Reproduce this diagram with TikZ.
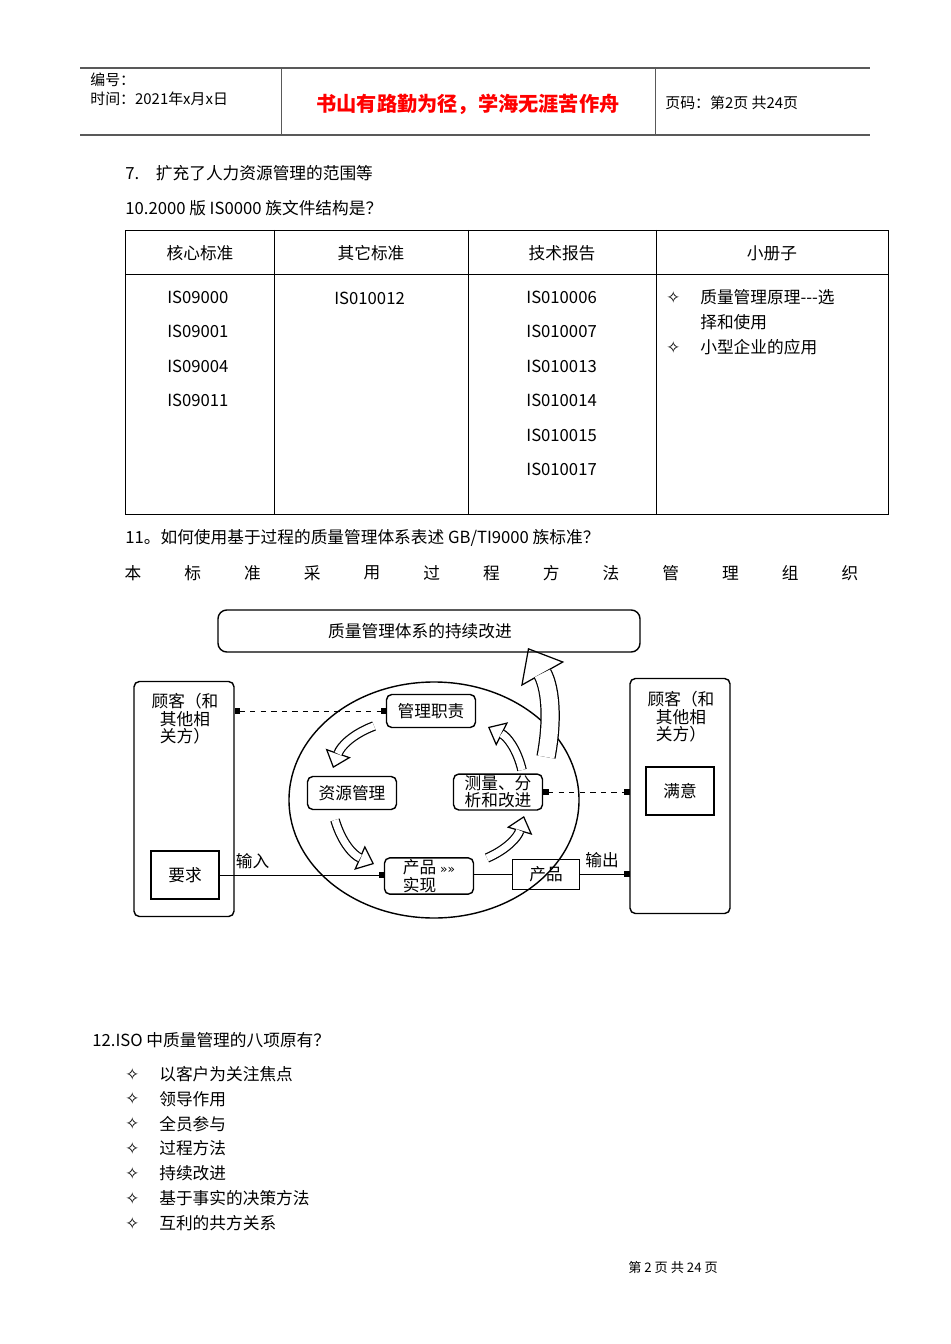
\documentclass[tikz,border=0pt]{standalone}
\usepackage{fontspec}
\setmainfont{Noto Sans CJK SC}
\newfontfamily\symfont{DejaVu Sans}
\usetikzlibrary{arrows.meta,positioning,shapes.geometric}
\tikzset{
  txt/.style={anchor=west, inner sep=0pt, font=\fontsize{9.5}{11}\selectfont},
  stage/.style={draw, rounded corners=3pt, thick, inner sep=1pt, minimum width=1.78cm, minimum height=0.66cm, align=center, font=\fontsize{9.5}{9.5}\selectfont},
  party/.style={draw, thick, rounded corners=3pt, minimum width=2cm, minimum height=4.7cm},
  sqbox/.style={draw, thick, minimum width=1.36cm, minimum height=0.96cm, font=\fontsize{9.5}{11}\selectfont},
  hollow/.style={line width=5.5pt, -{Triangle[open,length=9pt,width=15pt,line width=0.7pt]},
    postaction={draw=white, line width=4.1pt, -, shorten >=8.6pt}},
  bighollow/.style={line width=11pt, -{Triangle[open,length=17pt,width=28pt,line width=0.7pt]},
    postaction={draw=white, line width=9.6pt, -, shorten >=16.6pt}},
  dasharrow/.style={dashed, {Rectangle[length=3pt,width=3pt]}-{Rectangle[length=3pt,width=3pt]}},
  flow/.style={-{Rectangle[length=3pt,width=3pt]}}
}
\begin{document}
\begin{tikzpicture}[x=0.02cm, y=-0.02cm]
\useasboundingbox (0,0) rectangle (950,1344);

% Header
\draw[gray!70!black, line width=0.8pt] (80,68) -- (870,68);
\draw[gray!70!black, line width=1.4pt] (80,135) -- (870,135);
\draw[gray!70!black] (281,68) -- (281,135) (655,68) -- (655,135);
\node[txt, font=\fontsize{8.5}{10}\selectfont] (num) at (90,80) {编号：};
\node[txt, font=\fontsize{8.5}{10}\selectfont] (date) at (90,99) {时间：2021年x月x日};
\node[inner sep=0pt, text=red, font=\fontsize{11.5}{12}\selectfont\bfseries] (motto) at (468,104) {书山有路勤为径，学海无涯苦作舟};
\node[txt, font=\fontsize{8.5}{10}\selectfont] (page) at (665,103) {页码：第2页\ 共24页};

% Text
\node[txt] (l7) at (125,173) {7.\quad 扩充了人力资源管理的范围等};
\node[txt] (l10) at (125,208) {10.2000 版 IS0000 族文件结构是？};

% Table
\draw (125,230) rectangle (888,514);
\draw (125,274) -- (888,274);
\draw (274,230) -- (274,514) (468,230) -- (468,514) (656,230) -- (656,514);
\node[inner sep=0pt, font=\fontsize{9.5}{11}\selectfont] (h1) at (200,253) {核心标准};
\node[inner sep=0pt, font=\fontsize{9.5}{11}\selectfont] (h2) at (371,253) {其它标准};
\node[inner sep=0pt, font=\fontsize{9.5}{11}\selectfont] (h3) at (562,253) {技术报告};
\node[inner sep=0pt, font=\fontsize{9.5}{11}\selectfont] (h4) at (772,253) {小册子};
\foreach \t [count=\i] in {IS09000,IS09001,IS09004,IS09011}
  \node[txt] (core\i) at (167,263+34.4*\i) {\t};
\node[txt] (other1) at (334,298) {IS010012};
\foreach \t [count=\i] in {IS010006,IS010007,IS010013,IS010014,IS010015,IS010017}
  \node[txt] (tech\i) at (526,263+34.4*\i) {\t};
\node[txt] (b1) at (666,297) {\symfont ✧};
\node[txt] (b1t) at (700,297) {质量管理原理{-}{-}{-}选};
\node[txt] (b1u) at (700,322) {择和使用};
\node[txt] (b2) at (666,347) {\symfont ✧};
\node[txt] (b2t) at (700,347) {小型企业的应用};

\node[txt] (l11) at (125,538) {11。如何使用基于过程的质量管理体系表述 GB/TI9000 族标准？};
\foreach \c [count=\i] in {本,标,准,采,用,过,程,方,法,管,理,组,织}
  \node[inner sep=0pt, font=\fontsize{9.5}{11}\selectfont] (w\i) at (133+59.75*\i-59.75,573) {\c};

% Diagram
\draw[thick, rounded corners=5pt] (218,610) rectangle (640,652);
\node[inner sep=0pt, font=\fontsize{9.5}{11}\selectfont] (ci) at (420,631) {质量管理体系的持续改进};
\draw[thick] (434,800) ellipse (145 and 118);
\node[party] (custL) at (184,799) {};
\node[party] (custR) at (680,796) {};
\node[align=center, inner sep=0pt, font=\fontsize{9.5}{10}\selectfont] (custLt) at (185,719) {顾客（和\\其他相\\关方）};
\node[align=center, inner sep=0pt, font=\fontsize{9.5}{10}\selectfont] (custRt) at (681,717) {顾客（和\\其他相\\关方）};
\node[sqbox] (req) at (185,875) {要求};
\node[sqbox] (sat) at (680,791) {满意};
\node[stage] (mgmt) at (431,711) {管理职责};
\node[stage] (res) at (352,793) {资源管理};
\node[stage, font=\fontsize{9.5}{8.5}\selectfont] (meas) at (498,792) {测量、分\\析和改进};
\node[stage, align=left, font=\fontsize{9.5}{8.5}\selectfont] (real) at (429,876) {产品 {\symfont\scriptsize »»}\\实现};
\node[draw, minimum width=1.34cm, minimum height=0.6cm, font=\fontsize{9.5}{11}\selectfont] (prod) at (546,874) {产品};

\draw[dasharrow] (custL.east |- mgmt) -- (mgmt.west);
\draw[dasharrow] (meas.east) -- (custR.west |- meas);
\draw[flow] (req.east) -- node[above, pos=0.2, font=\fontsize{9.5}{11}\selectfont] (in) {输入} (real.west |- req);
\draw (real.east |- prod) -- (prod.west);
\draw[flow] (prod.east) -- node[above, pos=0.45, font=\fontsize{9.5}{11}\selectfont] (out) {输出} (custR.west |- prod);

% cycle arrows
\coordinate (a1) at (374,726); \coordinate (a1e) at (333,768);
\coordinate (a2) at (335,820); \coordinate (a2e) at (374,864);
\coordinate (a3) at (487,858); \coordinate (a3e) at (524,816);
\coordinate (a4) at (522,770); \coordinate (a4e) at (488,727);
\draw[hollow] (a1) to[bend right=25] (a1e);
\draw[hollow] (a2) to[bend right=25] (a2e);
\draw[hollow] (a3) to[bend right=25] (a3e);
\draw[hollow] (a4) to[bend right=25] (a4e);
\coordinate (up0) at (546,757); \coordinate (up1) at (528,648);
\draw[bighollow] (up0) to[bend right=20] (up1);

% Section 12
\node[txt] (l12) at (92,1040) {12.ISO 中质量管理的八项原有？};
\foreach \t [count=\i] in {以客户为关注焦点,领导作用,全员参与,过程方法,持续改进,基于事实的决策方法,互利的共方关系}{
  \node[txt] (p\i) at (125,1049+24.9*\i) {\symfont ✧};
  \node[txt] (pt\i) at (159,1049+24.9*\i) {\t};
}
\node[inner sep=0pt, font=\fontsize{7.5}{9}\selectfont] (foot) at (673,1267) {第\ 2\ 页\ 共\ 24\ 页};
\end{tikzpicture}
\end{document}
